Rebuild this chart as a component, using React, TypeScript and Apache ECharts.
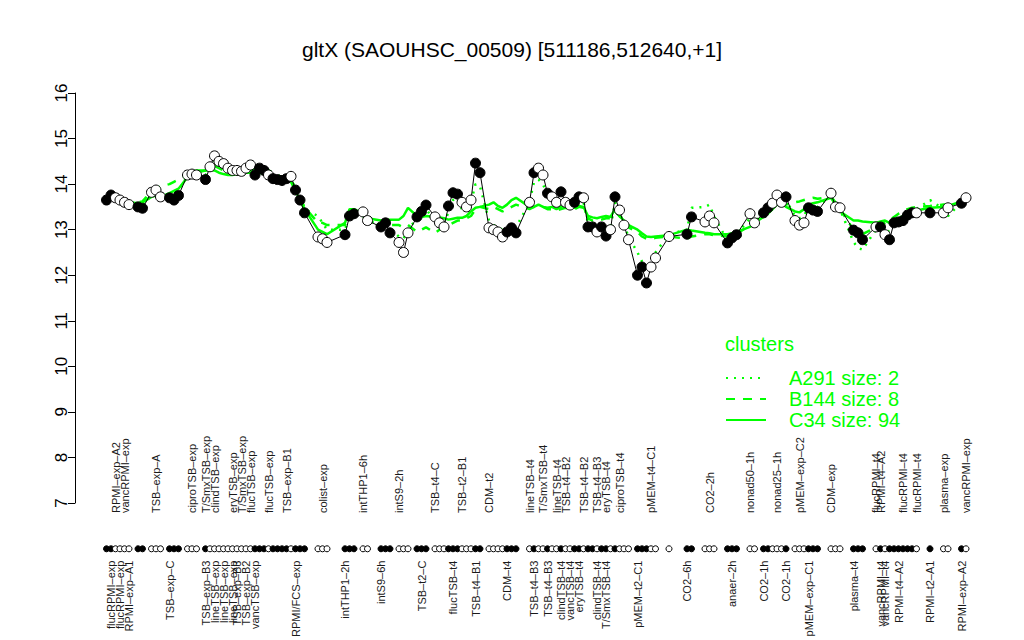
import React, { useEffect, useRef } from 'react';
import * as echarts from 'echarts';

// condition positions (slot index along x), expression, filled(1)/open(0)
const slots = [
  7, 8, 9, 10, 11, 12, 14, 15,
  17, 18, 19, 21, 22, 23, 25, 26, 27,
  29, 30, 31, 32, 33, 34, 35, 36, 37, 38, 39, 40, 41, 42, 43, 44, 45, 46, 47, 48,
  49, 50, 51, 54, 55, 56, 60, 61, 62, 64, 65, 68, 69, 70, 72, 73, 74,
  76, 77, 78, 80, 81, 82, 83, 84, 85, 86, 87, 88, 89, 90,
  92, 93, 94, 95, 96, 97, 98,
  101, 102, 103, 104, 105, 106, 107, 108, 109, 110, 111, 112, 113, 114, 115, 116, 117, 118, 119, 120, 121, 122, 123,
  125, 126, 127, 128, 129, 132, 136, 137, 140, 141, 142, 145, 146, 147,
  150, 151, 153, 154, 155, 156, 157, 158, 160, 161, 162, 163, 164, 165,
  168, 169, 170, 173, 174, 175,
  178, 179, 180, 181, 182, 183, 184, 185, 186, 187, 190, 193, 194, 197, 198,
];
const expression = [
  13.65, 13.76, 13.7, 13.65, 13.6, 13.55, 13.5, 13.47,
  13.82, 13.87, 13.72, 13.7, 13.65, 13.75, 14.2, 14.22, 14.2,
  14.1, 14.38, 14.62, 14.5, 14.45, 14.35, 14.3, 14.3, 14.28, 14.35, 14.42, 14.2, 14.35, 14.3, 14.2, 14.12, 14.1, 14.08, 14.12, 14.17,
  13.87, 13.65, 13.37, 12.84, 12.8, 12.72, 12.89, 13.3, 13.35, 13.39, 13.2, 13.06, 13.15, 12.93, 12.72, 12.5, 12.93,
  13.28, 13.4, 13.54, 13.28, 13.15, 13.06, 13.52, 13.81, 13.78, 13.6, 13.5, 13.65, 14.46, 14.25,
  13.04, 13.0, 12.95, 12.84, 12.95, 13.04, 12.93,
  13.6, 14.25, 14.35, 14.2, 13.8, 13.72, 13.6, 13.83, 13.6, 13.54, 13.6, 13.72, 13.7, 13.06, 13.06, 12.95, 13.06, 12.86, 13.0, 13.72, 13.43, 13.1, 12.78,
  12.0, 12.18, 11.83, 12.18, 12.38, 12.85, 12.9, 13.28, 13.17, 13.3, 13.15, 12.71, 12.82, 12.89,
  13.35, 13.15, 13.37, 13.48, 13.58, 13.76, 13.6, 13.72, 13.2, 13.1, 13.15, 13.48, 13.43, 13.4,
  13.8, 13.5, 13.48, 12.99, 12.93, 12.78,
  13.06, 13.06, 12.89, 12.78, 13.15, 13.17, 13.2, 13.32, 13.37, 13.37, 13.37, 13.37, 13.48, 13.58, 13.7,
];
const filled = [
  1, 1, 0, 0, 0, 0, 1, 1,
  0, 0, 0, 1, 1, 1, 0, 0, 0,
  1, 0, 0, 0, 0, 0, 0, 0, 0, 0, 0, 1, 1, 1, 0, 1, 1, 1, 1, 0,
  1, 1, 1, 0, 0, 0, 1, 1, 1, 0, 0, 1, 1, 1, 0, 0, 0,
  1, 1, 1, 0, 0, 0, 1, 1, 1, 0, 0, 0, 1, 1,
  0, 0, 0, 0, 1, 1, 1,
  0, 1, 0, 0, 1, 0, 0, 1, 0, 0, 1, 1, 0, 1, 1, 0, 1, 1, 0, 1, 0, 0, 0,
  1, 1, 1, 0, 0, 0, 1, 1, 0, 0, 0, 1, 1, 1,
  0, 0, 1, 1, 0, 0, 0, 1, 0, 0, 0, 1, 1, 1,
  0, 0, 0, 1, 1, 1,
  0, 1, 0, 1, 1, 1, 1, 1, 1, 0, 1, 0, 0, 1, 0,
];
// cluster mean profiles
const clusterC34 = [
  13.68, 13.7, 13.68, 13.65, 13.62, 13.6, 13.58, 13.6,
  13.72, 13.75, 13.72, 13.8, 13.85, 13.9, 14.15, 14.25, 14.3,
  14.3, 14.3, 14.3, 14.25, 14.22, 14.2, 14.2, 14.22, 14.22, 14.25, 14.25, 14.25, 14.25, 14.22, 14.2, 14.18, 14.15, 14.12, 14.1, 14.05,
  13.85, 13.65, 13.45, 13.0, 12.95, 12.9, 13.15, 13.45, 13.45, 13.35, 13.25, 13.2, 13.2, 13.22, 13.22, 13.3, 13.48,
  13.3, 13.28, 13.3, 13.28, 13.27, 13.25, 13.22, 13.24, 13.26, 13.26, 13.3, 13.4, 13.48, 13.5,
  13.55, 13.6, 13.52, 13.48, 13.55, 13.65, 13.7,
  13.5, 13.5, 13.55, 13.5, 13.48, 13.5, 13.45, 13.5, 13.52, 13.5, 13.48, 13.52, 13.5, 13.3, 13.27, 13.25, 13.28, 13.3, 13.28, 13.45, 13.3, 13.2, 13.1,
  13.0, 12.92, 12.85, 12.84, 12.85, 12.88, 13.0, 12.98, 12.93, 12.92, 12.9, 12.9, 12.92, 12.95,
  13.06, 13.15, 13.28, 13.35, 13.45, 13.55, 13.6, 13.5, 13.4, 13.38, 13.45, 13.55, 13.58, 13.6,
  13.7, 13.55, 13.4, 13.2, 13.2, 13.18,
  13.15, 13.18, 13.2, 13.15, 13.2, 13.25, 13.3, 13.35, 13.4, 13.42, 13.48, 13.5, 13.52, 13.62, 13.66,
];
const clusterB144 = [
  13.7, 13.72, 13.7, 13.68, 13.65, 13.62, 13.6, 13.62,
  13.85, 13.9, 13.95, 14.0, 14.05, 14.1, 14.2, 14.25, 14.25,
  14.3, 14.35, 14.4, 14.35, 14.3, 14.28, 14.25, 14.25, 14.3, 14.3, 14.3, 14.35, 14.35, 14.32, 14.3, 14.25, 14.2, 14.15, 14.15, 14.1,
  13.9, 13.7, 13.5, 13.15, 13.15, 13.1, 13.1, 13.35, 13.4, 13.3, 13.2, 13.05, 13.1, 13.1, 13.1, 13.05, 13.1,
  12.95, 13.0, 13.05, 12.93, 13.0, 13.05, 13.1, 13.15, 13.2, 13.2, 13.25, 13.3, 13.45, 13.5,
  13.45, 13.5, 13.45, 13.4, 13.45, 13.5, 13.55,
  13.45, 13.5, 13.52, 13.5, 13.45, 13.45, 13.42, 13.45, 13.48, 13.45, 13.45, 13.5, 13.48, 13.25, 13.2, 13.2, 13.22, 13.25, 13.25, 13.4, 13.3, 13.15, 13.05,
  12.95, 12.85, 12.8, 12.8, 12.82, 12.85, 12.8, 12.85, 12.9, 12.9, 12.88, 12.85, 12.88, 12.9,
  13.1, 13.2, 13.3, 13.38, 13.45, 13.5, 13.55, 13.55, 13.6, 13.62, 13.65, 13.68, 13.7, 13.68,
  13.72, 13.6, 13.45, 13.0, 12.95, 12.9,
  13.05, 13.1, 13.15, 13.2, 13.28, 13.35, 13.4, 13.45, 13.48, 13.5, 13.52, 13.55, 13.55, 13.6, 13.65,
];
const clusterA291 = [
  13.65, 13.7, 13.68, 13.62, 13.6, 13.55, 13.5, 13.5,
  13.78, 13.8, 13.72, 13.75, 13.8, 13.85, 14.2, 14.22, 14.25,
  14.2, 14.35, 14.5, 14.45, 14.4, 14.3, 14.28, 14.28, 14.3, 14.32, 14.35, 14.3, 14.32, 14.28, 14.22, 14.15, 14.12, 14.1, 14.12, 14.1,
  13.9, 13.7, 13.45, 13.3, 13.15, 13.0, 13.0, 13.3, 13.38, 13.35, 13.2, 13.1, 13.15, 13.0, 12.85, 12.8, 13.0,
  13.25, 13.35, 13.45, 13.2, 13.1, 13.1, 13.4, 13.65, 13.7, 13.43, 13.5, 13.6, 14.0, 13.95,
  13.2, 13.1, 13.05, 13.0, 13.05, 13.1, 13.05,
  13.6, 14.05, 14.1, 14.0, 13.75, 13.65, 13.6, 13.7, 13.6, 13.55, 13.6, 13.65, 13.6, 13.15, 13.1, 13.05, 13.1, 13.0, 13.05, 13.6, 13.4, 13.1, 12.85,
  12.5, 12.3, 12.2, 12.3, 12.5, 12.9, 13.0, 13.48, 13.5, 13.55, 13.3, 12.75, 12.85, 12.9,
  13.25, 13.2, 13.35, 13.45, 13.55, 13.65, 13.6, 13.65, 13.3, 13.25, 13.3, 13.5, 13.5, 13.5,
  13.75, 13.55, 13.45, 12.73, 12.6, 12.56,
  13.0, 13.05, 13.0, 12.95, 13.15, 13.2, 13.3, 13.4, 13.45, 13.45, 13.65, 13.45, 13.3, 13.6, 13.7,
];

// condition labels above and below the strip
const topLabelSlots = [
  9, 11, 18, 26, 29, 31, 35, 37, 39, 43, 47,
  55, 64, 72, 80, 86, 92, 101, 104, 107, 109, 113, 116, 118, 121,
  128, 141, 150, 156, 161, 168, 178, 179, 184, 187, 193, 198,
];
const topLabels = [
  'RPMI\u2013exp\u2013A2', 'vancRPMI\u2013exp', 'TSB\u2013exp\u2013A', 'ciproTSB\u2013exp', 'T/SmxTSB\u2013exp', 'clindTSB\u2013exp',
  'eryTSB\u2013exp', 'T/SmxTSB\u2013exp', 'flucTSB\u2013exp', 'flucTSB\u2013exp', 'TSB\u2013exp\u2013B1',
  'colist\u2013exp', 'intTHP1\u20136h', 'intS9\u20132h', 'TSB\u2013t4\u2013C', 'TSB\u2013t2\u2013B1', 'CDM\u2013t2', 'lineTSB\u2013t4',
  'T/SmxTSB\u2013t4', 'lineTSB\u2013t4', 'TSB\u2013t4\u2013B2', 'TSB\u2013t4\u2013B2', 'TSB\u2013t4\u2013B3', 'eryTSB\u2013t4', 'ciproTSB\u2013t4',
  'pMEM\u2013t4\u2013C1', 'CO2\u20132h', 'nonad50\u20131h', 'nonad25\u20131h', 'pMEM\u2013exp\u2013C2', 'CDM\u2013exp',
  'flucRPMI\u2013t4', 'RPMI\u2013t4\u2013A2', 'flucRPMI\u2013t4', 'flucRPMI\u2013t4', 'plasma\u2013exp', 'vancRPMI\u2013exp',
];
const bottomLabelSlots = [
  8, 10, 12, 21, 29, 31, 33, 35, 36, 38, 40, 49,
  60, 68, 77, 84, 89, 96, 102, 105, 108, 110, 112, 116, 118,
  125, 136, 146, 153, 158, 163, 173, 179, 180, 183, 190, 197,
];
const bottomLabels = [
  'flucRPMI\u2013exp', 'flucRPMI\u2013exp', 'RPMI\u2013exp\u2013A1', 'TSB\u2013exp\u2013C', 'TSB\u2013exp\u2013B3', 'lineTSB\u2013exp',
  'lineTSB\u2013exp', 'lineTSB\u2013exp', 'TSB\u2013exp\u2013B3', 'TSB\u2013exp\u2013B2', 'vancTSB\u2013exp', 'RPMI/FCS\u2013exp',
  'intTHP1\u20132h', 'intS9\u20136h', 'TSB\u2013t2\u2013C', 'flucTSB\u2013t4', 'TSB\u2013t4\u2013B1', 'CDM\u2013t4',
  'TSB\u2013t4\u2013B3', 'TSB\u2013t4\u2013B3', 'clindTSB\u2013t4', 'vancTSB\u2013t4', 'eryTSB\u2013t4', 'clindTSB\u2013t4', 'T/SmxTSB\u2013t4',
  'pMEM\u2013t2\u2013C1', 'CO2\u20136h', 'anaer\u20132h', 'CO2\u20131h', 'CO2\u20131h', 'pMEM\u2013exp\u2013C1', 'plasma\u2013t4',
  'vancRPMI\u2013t4', 'vancRPMI\u2013t4', 'RPMI\u2013t4\u2013A2', 'RPMI\u2013t2\u2013A1', 'RPMI\u2013exp\u2013A2',
];

const clusterNames = ['A291 size: 2', 'B144 size: 8', 'C34 size: 94'];
const TITLE = 'gltX (SAOUHSC_00509) [511186,512640,+1]';

const GREEN = '#00ff00';
const FONT = '"Liberation Sans", Arial, Helvetica, sans-serif';

export default function App() {
  const ref = useRef<HTMLDivElement>(null);
  useEffect(() => {
    if (!ref.current) return;
    const chart = echarts.init(ref.current, null, { renderer: 'svg' });
    const topMap = new Map<number, string>();
    topLabelSlots.forEach((s, i) => topMap.set(s, topLabels[i]));
    const botMap = new Map<number, string>();
    bottomLabelSlots.forEach((s, i) => botMap.set(s, bottomLabels[i]));

    const pointStyle = (i: number) => ({
      color: filled[i] ? '#000' : '#fff',
      borderColor: '#000',
      borderWidth: 1,
      opacity: 1,
    });

    const greenLine = (name: string, vals: number[], type: any, z: number) => ({
      name,
      type: 'line',
      xAxisIndex: 0,
      yAxisIndex: 0,
      data: slots.map((s, i) => [s, vals[i]]),
      symbol: 'none',
      lineStyle: { color: GREEN, width: 2.5, type },
      itemStyle: { color: GREEN },
      z,
      silent: true,
    });

    const stripAxis = (pos: 'top' | 'bottom', map: Map<number, string>, margin: number) => ({
      gridIndex: 1,
      type: 'value',
      min: 0,
      max: 200,
      interval: 1,
      position: pos,
      axisLine: { show: false },
      axisTick: { show: false },
      splitLine: { show: false },
      axisLabel: {
        rotate: 90,
        margin,
        fontSize: 11,
        fontFamily: FONT,
        color: '#1a1a1a',
        showMinLabel: true,
        showMaxLabel: true,
        formatter: (v: number) => map.get(Math.round(v)) ?? '',
      },
    });

    chart.setOption({
      animation: false,
      backgroundColor: '#ffffff',
      textStyle: { fontFamily: FONT },
      title: [
        {
          text: TITLE,
          left: 'center',
          top: 34,
          textStyle: { fontSize: 21, fontWeight: 'normal', color: '#000', fontFamily: FONT },
        },
        {
          text: 'clusters',
          left: 720,
          top: 329,
          textStyle: { fontSize: 20, fontWeight: 'normal', color: GREEN, fontFamily: FONT },
        },
      ],
      legend: {
        orient: 'vertical',
        left: 720,
        top: 363,
        itemWidth: 40,
        itemHeight: 12,
        itemGap: 1,
        selectedMode: false,
        data: clusterNames,
        itemStyle: { opacity: 0 },
        textStyle: { fontSize: 20, color: GREEN, fontFamily: FONT, padding: [0, 0, 0, 18] },
      },
      grid: [
        { left: 75, top: 93, width: 900, height: 410 },
        { left: 75, top: 539, width: 900, height: 20 },
      ],
      xAxis: [
        { gridIndex: 0, type: 'value', min: 0, max: 200, show: false },
        stripAxis('top', topMap, 26),
        stripAxis('bottom', botMap, 2),
      ],
      yAxis: [
        {
          gridIndex: 0,
          type: 'value',
          min: 7,
          max: 16,
          interval: 1,
          axisLine: { show: true, lineStyle: { color: '#000', width: 1 } },
          axisTick: { show: true, length: 7, lineStyle: { color: '#000' } },
          splitLine: { show: false },
          axisLabel: { rotate: 90, fontSize: 17, color: '#000', margin: 5, fontFamily: FONT },
        },
        { gridIndex: 1, type: 'value', min: -1, max: 1, show: false },
      ],
      series: [
        greenLine(clusterNames[0], clusterA291, [2, 6], 2),
        greenLine(clusterNames[1], clusterB144, [9, 8], 2),
        greenLine(clusterNames[2], clusterC34, 'solid', 2),
        {
          name: 'profile',
          type: 'line',
          xAxisIndex: 0,
          yAxisIndex: 0,
          data: slots.map((s, i) => [s, expression[i]]),
          symbol: 'none',
          lineStyle: { color: '#000', width: 1 },
          z: 3,
          silent: true,
        },
        {
          name: 'points',
          type: 'scatter',
          xAxisIndex: 0,
          yAxisIndex: 0,
          symbol: 'circle',
          symbolSize: 10,
          data: slots.map((s, i) => ({ value: [s, expression[i]], itemStyle: pointStyle(i) })),
          z: 4,
          silent: true,
        },
        {
          name: 'strip',
          type: 'scatter',
          xAxisIndex: 1,
          yAxisIndex: 1,
          symbol: 'circle',
          symbolSize: 6,
          data: slots.map((s, i) => ({ value: [s, 0], itemStyle: pointStyle(i) })),
          z: 4,
          silent: true,
        },
      ],
    });
    return () => chart.dispose();
  }, []);
  return <div ref={ref} style={{ position: 'absolute', left: 0, top: 0, width: 1024, height: 640 }} />;
}
